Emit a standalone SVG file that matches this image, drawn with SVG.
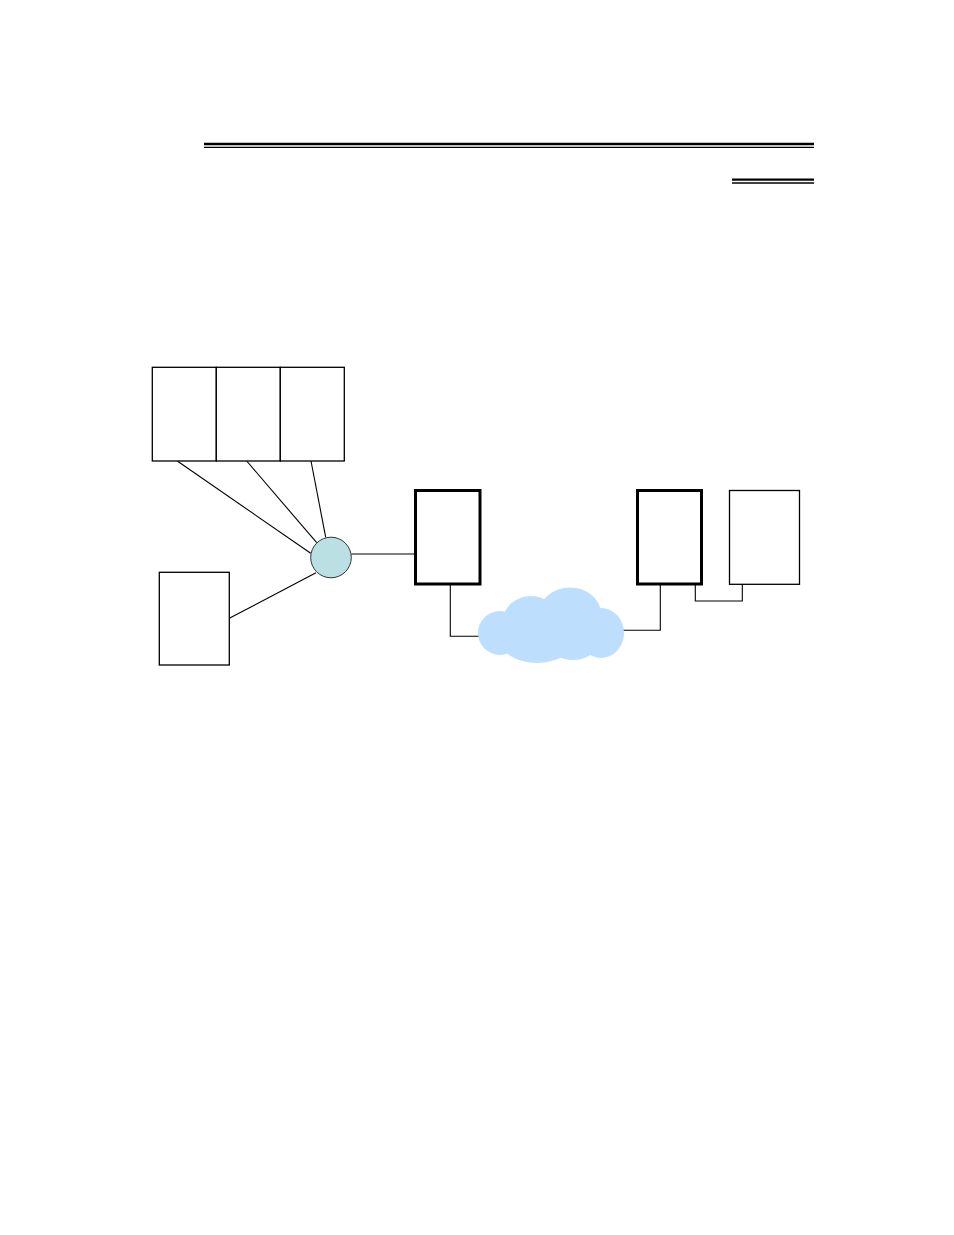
<svg xmlns="http://www.w3.org/2000/svg" width="954" height="1235" viewBox="0 0 954 1235">
<style>
.box{fill:#fff;stroke:#000;stroke-width:1.3}
.tbox{fill:#fff;stroke:#000;stroke-width:3}
.wire{fill:none;stroke:#000;stroke-width:1.1}
.cl{fill:#BDDFFD;stroke:none}
.rule{stroke:#000}
</style>
<rect width="954" height="1235" fill="#fff"/>
<g id="rules">
<line class="rule" x1="204" y1="144" x2="814" y2="144" stroke-width="2.6"/>
<line class="rule" x1="204" y1="147.3" x2="814" y2="147.3" stroke-width="1.3"/>
<line class="rule" x1="732" y1="179.7" x2="814" y2="179.7" stroke-width="2.2"/>
<line class="rule" x1="732" y1="183" x2="814" y2="183" stroke-width="1.3"/>
</g>
<g id="connectors">
<line class="wire" x1="177.3" y1="461" x2="310.7" y2="553.3"/>
<line class="wire" x1="246.7" y1="461" x2="316.7" y2="542.7"/>
<line class="wire" x1="311" y1="461" x2="325.7" y2="537.3"/>
<line class="wire" x1="229.3" y1="618.3" x2="316" y2="572.7"/>
<line class="wire" x1="351.3" y1="554" x2="415" y2="554"/>
<polyline class="wire" points="450.3,584 450.3,636.3 480,636.3"/>
<polyline class="wire" points="660.3,584 660.3,630.3 622,630.3"/>
<polyline class="wire" points="695.3,584 695.3,601 742.3,601 742.3,584"/>
</g>
<g id="box-a"><rect class="box" x="152.3" y="367.3" width="64" height="93.7"/></g>
<g id="box-b"><rect class="box" x="216.3" y="367.3" width="64" height="93.7"/></g>
<g id="box-c"><rect class="box" x="280.3" y="367.3" width="64" height="93.7"/></g>
<g id="box-d"><rect class="box" x="159.3" y="572.3" width="70" height="92.7"/></g>
<g id="hub"><circle cx="331" cy="557.5" r="20.3" fill="#BAE0E3" stroke="#333" stroke-width="1"/></g>
<g id="router-a"><rect class="tbox" x="415.5" y="490.5" width="64.5" height="93.5"/></g>
<g id="router-b"><rect class="tbox" x="637.5" y="490.5" width="64" height="93.5"/></g>
<g id="box-e"><rect class="box" x="729.5" y="490.5" width="70" height="93.8"/></g>
<g id="cloud">
<ellipse class="cl" cx="500" cy="633" rx="22" ry="22"/>
<ellipse class="cl" cx="531" cy="621" rx="28" ry="25"/>
<ellipse class="cl" cx="570" cy="614" rx="31" ry="26.5"/>
<ellipse class="cl" cx="601" cy="633" rx="23" ry="25"/>
<ellipse class="cl" cx="537" cy="638" rx="38" ry="25"/>
<ellipse class="cl" cx="573" cy="640" rx="26" ry="20"/>
<ellipse class="cl" cx="552" cy="630" rx="55" ry="25"/>
</g>
</svg>
